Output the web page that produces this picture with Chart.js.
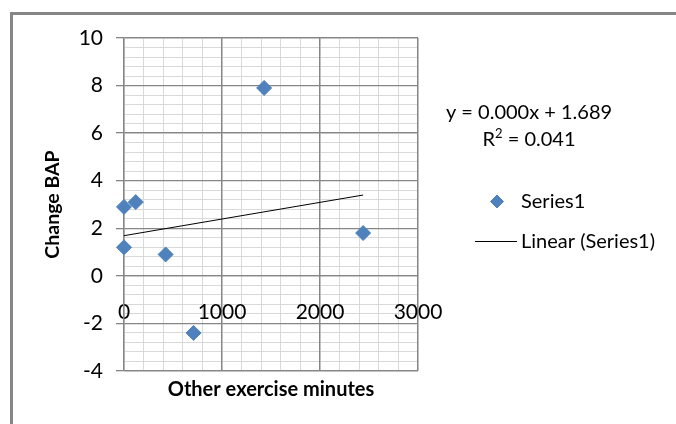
<!DOCTYPE html>
<html>
<head>
<meta charset="utf-8">
<script src="https://cdn.jsdelivr.net/npm/chart.js@4.4.1/dist/chart.umd.min.js"></script>
<style>
  html, body { margin: 0; padding: 0; background: #fff; }
</style>
</head>
<body>
<canvas id="chart" width="676" height="424"></canvas>
<script>
// values
const minutes = [0, 0, 120, 425, 710, 1430, 2440]
const changeBAP = [2.9, 1.2, 3.1, 0.9, -2.4, 7.9, 1.8]
const trendX = [0, 2440]
const trendY = [1.689, 3.398]
const xTicks = [0, 1000, 2000, 3000]
const yTicks = [-4, -2, 0, 2, 4, 6, 8, 10]
const seriesName = "Series1"
const trendName = "Linear (Series1)"
const equation = "y = 0.000x + 1.689"
const rSquared = "0.041"

const FONT = "Lato"
const majorGrid = "#868686"
const minorGrid = "#d9d9d9"
const blue = "#4f81bd"

const xStep = xTicks[1] - xTicks[0]
const yStep = yTicks[1] - yTicks[0]

const points = minutes.map((m, i) => ({ x: m, y: changeBAP[i] }))
const trend = trendX.map((t, i) => ({ x: t, y: trendY[i] }))

const extras = {
    id: "extras",
    beforeDraw(chart) {
        const ctx = chart.ctx
        ctx.save()
        ctx.fillStyle = "#fff"
        ctx.fillRect(0, 0, chart.width, chart.height)
        ctx.strokeStyle = "#868686"
        ctx.lineWidth = 3
        ctx.strokeRect(11.5, 13.5, chart.width + 20, chart.height + 20)
        ctx.restore()
    },
    afterDraw(chart) {
        const ctx = chart.ctx
        ctx.save()
        ctx.fillStyle = "#000"
        ctx.font = "20px " + FONT
        ctx.textBaseline = "middle"
        // trendline label
        ctx.textAlign = "center"
        ctx.fillText(equation, 529, 113)
        // R² line, centred as a whole
        const rest = " = " + rSquared
        ctx.font = "20px " + FONT
        const wR = ctx.measureText("R").width
        const wRest = ctx.measureText(rest).width
        ctx.font = "13px " + FONT
        const w2 = ctx.measureText("2").width
        let x0 = 529 - (wR + w2 + wRest) / 2
        ctx.textAlign = "left"
        ctx.font = "20px " + FONT
        ctx.fillText("R", x0, 140)
        ctx.font = "13px " + FONT
        ctx.fillText("2", x0 + wR, 134)
        ctx.font = "20px " + FONT
        ctx.fillText(rest, x0 + wR + w2, 140)
        // legend
        ctx.fillStyle = blue
        ctx.strokeStyle = blue
        Chart.helpers.drawPoint(ctx, { pointStyle: "rectRot", radius: 6.5, borderWidth: 1 }, 497, 201.5)
        ctx.fillStyle = "#000"
        ctx.fillText(chart.data.datasets[0].label, 521, 201.5)
        ctx.strokeStyle = "#000"
        ctx.lineWidth = 1
        ctx.beginPath()
        ctx.moveTo(475, 241.5)
        ctx.lineTo(517, 241.5)
        ctx.stroke()
        ctx.fillText(chart.data.datasets[1].label, 521, 241.5)
        ctx.restore()
    }
}

new Chart(document.getElementById("chart"), {
    type: "scatter",
    data: {
        datasets: [{
            label: seriesName,
            data: points,
            pointStyle: "rectRot",
            pointRadius: 7.5,
            backgroundColor: blue,
            borderColor: blue,
            borderWidth: 1,
            clip: false
        }, {
            label: trendName,
            data: trend,
            showLine: true,
            borderColor: "#000",
            borderWidth: 1,
            pointRadius: 0
        }]
    },
    options: {
        responsive: false,
        animation: false,
        devicePixelRatio: 1,
        events: [],
        layout: { padding: { left: 0, top: 38, right: 258, bottom: 0 } },
        plugins: { legend: { display: false }, tooltip: { enabled: false } },
        scales: {
            x: {
                type: "linear",
                position: { y: 0 },
                min: xTicks[0],
                max: xTicks[xTicks.length - 1],
                ticks: { stepSize: xStep, maxTicksLimit: xTicks.length, autoSkip: false, padding: 24,
                         color: "#000", font: { family: FONT, size: 21 }, callback: v => String(v) },
                grid: { color: majorGrid, lineWidth: 1.3, drawTicks: false },
                border: { color: majorGrid, width: 1.3 },
                afterFit: s => { s.height = 0 }
            },
            x2: {
                type: "linear",
                axis: "x",
                position: "bottom",
                min: xTicks[0],
                max: xTicks[xTicks.length - 1],
                ticks: { display: false, stepSize: xStep / 5, maxTicksLimit: 16 },
                grid: { color: minorGrid, drawTicks: false, z: -2 },
                border: { display: false },
                title: { display: true, text: "Other exercise minutes", color: "#000",
                         font: { family: FONT, size: 20, weight: "bold" }, padding: { top: 0, bottom: 22 } },
                afterFit: s => { s.height = 53 }
            },
            y: {
                type: "linear",
                position: "left",
                min: yTicks[0],
                max: yTicks[yTicks.length - 1],
                ticks: { stepSize: yStep, autoSkip: false, padding: 13,
                         color: "#000", font: { family: FONT, size: 21 } },
                grid: { color: majorGrid, lineWidth: 1.3, tickLength: 8 },
                border: { color: majorGrid, width: 1.3 },
                title: { display: true, text: "Change BAP", color: "#000",
                         font: { family: FONT, size: 19.5, weight: "bold" }, padding: { top: 41, bottom: 0 } },
                afterFit: s => { s.width = 124 }
            },
            y2: {
                type: "linear",
                axis: "y",
                position: "left",
                min: yTicks[0],
                max: yTicks[yTicks.length - 1],
                ticks: { display: false, stepSize: yStep / 5, maxTicksLimit: 36 },
                grid: { color: minorGrid, drawTicks: false, z: -2 },
                border: { display: false },
                afterFit: s => { s.width = 0 }
            }
        }
    },
    plugins: [extras]
})
</script>
</body>
</html>
